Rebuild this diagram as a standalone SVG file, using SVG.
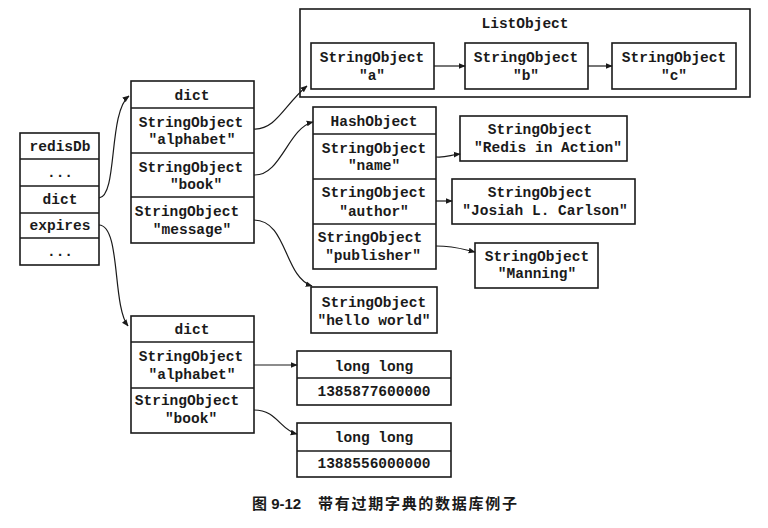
<svg xmlns="http://www.w3.org/2000/svg" width="768" height="528" viewBox="0 0 768 528">
<style>
rect{fill:#fff;stroke:#1a1a1a;stroke-width:1.6}
line.d{stroke:#1a1a1a;stroke-width:1.6}
text{font-family:"Liberation Mono","Courier New",monospace;font-size:14.5px;font-weight:bold;fill:#1a1a1a;text-anchor:middle}
.c path{fill:none;stroke:#1a1a1a;stroke-width:1.2}
.cap{font-family:"Liberation Sans","Noto Sans CJK SC",sans-serif;font-size:15px;text-anchor:start}
</style>
<defs>
<marker id="ah" viewBox="0 0 10 10" refX="9" refY="5" markerWidth="7" markerHeight="7" markerUnits="userSpaceOnUse" orient="auto">
<path d="M0,1 L10,5 L0,9 z" fill="#1a1a1a"/>
</marker>
</defs>
<rect x="0" y="0" width="768" height="528" style="stroke:none"/>

<g id="redisDb">
<rect x="20" y="133" width="79" height="132"/>
<line class="d" x1="20" y1="159" x2="99" y2="159"/>
<line class="d" x1="20" y1="186" x2="99" y2="186"/>
<line class="d" x1="20" y1="213" x2="99" y2="213"/>
<line class="d" x1="20" y1="238" x2="99" y2="238"/>
<text x="60" y="151">redisDb</text>
<text x="60" y="177">...</text>
<text x="60" y="204">dict</text>
<text x="60" y="230">expires</text>
<text x="60" y="256">...</text>
</g>

<g id="dict1">
<rect x="131" y="81" width="123" height="162"/>
<line class="d" x1="131" y1="108" x2="254" y2="108"/>
<line class="d" x1="131" y1="153" x2="254" y2="153"/>
<line class="d" x1="131" y1="197" x2="254" y2="197"/>
<text x="192" y="99.5">dict</text>
<text x="191" y="127">StringObject</text>
<text x="192" y="144">"alphabet"</text>
<text x="191" y="172">StringObject</text>
<text x="196" y="189">"book"</text>
<text x="187" y="216">StringObject</text>
<text x="192" y="234">"message"</text>
</g>

<g id="listObject">
<rect x="300" y="9" width="450" height="88"/>
<text x="525" y="28">ListObject</text>
</g>
<g id="strA">
<rect x="311" y="43" width="123" height="46"/>
<text x="372" y="62">StringObject</text>
<text x="372" y="80">"a"</text>
</g>
<g id="strB">
<rect x="465" y="43" width="123" height="46"/>
<text x="526" y="62">StringObject</text>
<text x="526" y="80">"b"</text>
</g>
<g id="strC">
<rect x="612" y="43" width="124" height="46"/>
<text x="674" y="62">StringObject</text>
<text x="674" y="80">"c"</text>
</g>

<g id="hashObject">
<rect x="313" y="107" width="123" height="162"/>
<line class="d" x1="313" y1="134" x2="436" y2="134"/>
<line class="d" x1="313" y1="179" x2="436" y2="179"/>
<line class="d" x1="313" y1="224" x2="436" y2="224"/>
<text x="374" y="126">HashObject</text>
<text x="374" y="153">StringObject</text>
<text x="374" y="170">"name"</text>
<text x="374" y="197">StringObject</text>
<text x="374" y="216">"author"</text>
<text x="370" y="242">StringObject</text>
<text x="373" y="260">"publisher"</text>
</g>

<g id="redisInAction">
<rect x="460" y="116" width="167" height="45"/>
<text x="540" y="134">StringObject</text>
<text x="548" y="152">"Redis in Action"</text>
</g>
<g id="josiah">
<rect x="452" y="179" width="183" height="45"/>
<text x="540" y="197">StringObject</text>
<text x="545" y="215">"Josiah L. Carlson"</text>
</g>
<g id="manning">
<rect x="475" y="243" width="123" height="45"/>
<text x="537" y="261">StringObject</text>
<text x="537" y="278">"Manning"</text>
</g>

<g id="helloWorld">
<rect x="311" y="287" width="126" height="46"/>
<text x="374" y="307">StringObject</text>
<text x="374" y="325">"hello world"</text>
</g>

<g id="dict2">
<rect x="131" y="316" width="123" height="117"/>
<line class="d" x1="131" y1="342" x2="254" y2="342"/>
<line class="d" x1="131" y1="388" x2="254" y2="388"/>
<text x="192" y="334">dict</text>
<text x="191" y="361">StringObject</text>
<text x="192" y="379">"alphabet"</text>
<text x="187" y="405">StringObject</text>
<text x="191" y="423">"book"</text>
</g>

<g id="longlong1">
<rect x="297" y="351" width="154" height="54"/>
<line class="d" x1="297" y1="378" x2="451" y2="378"/>
<text x="374" y="371">long long</text>
<text x="374" y="396">1385877600000</text>
</g>
<g id="longlong2">
<rect x="297" y="423" width="154" height="54"/>
<line class="d" x1="297" y1="451" x2="451" y2="451"/>
<text x="374" y="442">long long</text>
<text x="374" y="468">1388556000000</text>
</g>

<g id="connectors" class="c">
<path d="M99,198 C118,196 108,112 129,96" marker-end="url(#ah)"/>
<path d="M99,225 C121,226 112,305 128,326" marker-end="url(#ah)"/>
<path d="M254,129 C276,130 285,104 307,86" marker-end="url(#ah)"/>
<path d="M254,175 C281,176 288,128 313,122" marker-end="url(#ah)"/>
<path d="M254,220 C287,220 284,277 312,286" marker-end="url(#ah)"/>
<path d="M434,66 L465,66" marker-end="url(#ah)"/>
<path d="M588,66 L612,66" marker-end="url(#ah)"/>
<path d="M436,157 C446,158 450,155 460,154" marker-end="url(#ah)"/>
<path d="M436,201 L452,201" marker-end="url(#ah)"/>
<path d="M436,246 C455,246 462,249 475,252" marker-end="url(#ah)"/>
<path d="M254,365 L297,365" marker-end="url(#ah)"/>
<path d="M254,410 C277,410 280,430 297,434" marker-end="url(#ah)"/>
</g>

<text class="cap" x="252" y="509" font-weight="bold">图 9-12</text>
<text class="cap" x="318" y="509" font-weight="bold" textLength="199" lengthAdjust="spacing">带有过期字典的数据库例子</text>
</svg>
